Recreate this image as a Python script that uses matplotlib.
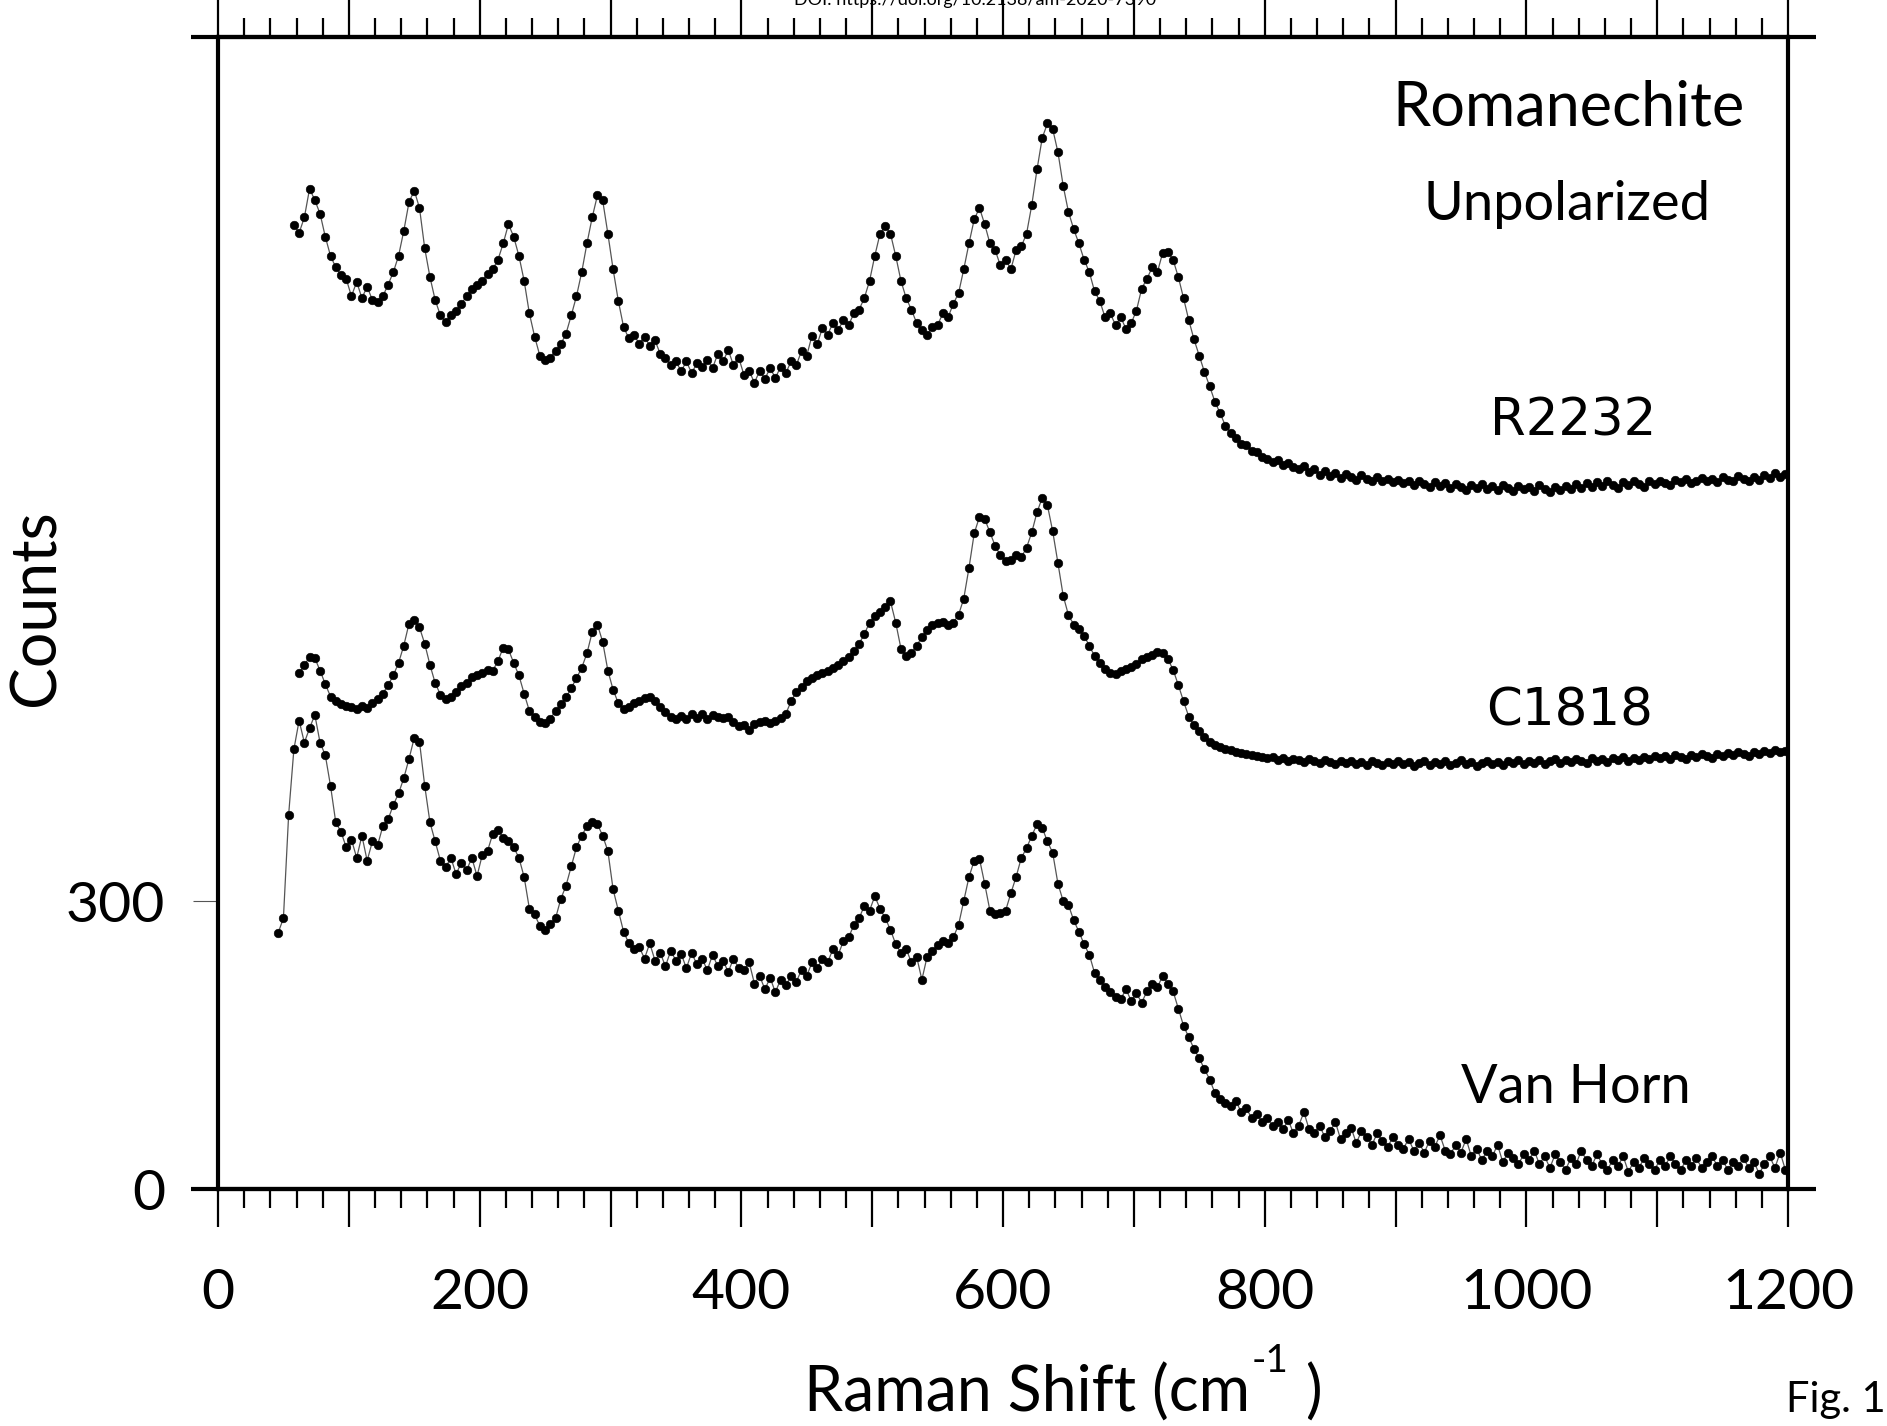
import numpy as np
import matplotlib
matplotlib.use("Agg")
import matplotlib.pyplot as plt
from matplotlib.ticker import MultipleLocator, FuncFormatter

# ---- Raman shift sampling (cm^-1) ----
r2232_shift = np.arange(58, 1199, 4)
c1818_shift = np.arange(62, 1199, 4)
vanhorn_shift = np.arange(46, 1199, 4)

# ---- R2232 counts (offset trace, top) ----
r2232_counts = [
    1004, 996, 1012, 1042, 1030, 1016, 992, 972, 960, 952, 948,
    930, 945, 928, 940, 926, 924, 930, 942, 955, 972, 998, 1028, 1040, 1022, 980,
    950, 926, 910, 903, 910, 915, 922, 930, 938, 942,
    946, 953, 958, 968, 985, 1005, 992, 972, 946, 912, 888, 868, 864, 866, 873,
    880, 891, 910, 930, 955, 985, 1012, 1035, 1030, 995,
    958, 925, 898, 886, 890, 880, 888, 878, 884, 870, 866, 858, 862, 852, 862,
    850, 860, 856, 864, 855, 870, 862, 874, 858, 866,
    848, 852, 840, 852, 844, 855, 845, 856, 850, 862, 858, 873, 868, 889, 880,
    897, 890, 902, 895, 905, 900, 912, 916, 928, 946,
    972, 995, 1003, 995, 972, 946, 928, 916, 902, 895, 890, 898, 900, 912, 908,
    922, 933, 958, 985, 1010, 1022, 1005, 985, 978, 962,
    968, 958, 978, 982, 995, 1025, 1062, 1095, 1110, 1104, 1080, 1045, 1018, 1000, 985,
    968, 955, 935, 925, 908, 912, 900, 908, 896, 902,
    915, 938, 948, 960, 955, 975, 976, 968, 950, 928, 905, 885, 868, 851, 836,
    820, 808, 795, 788, 782, 776, 775, 769, 768, 762,
    760, 757, 759, 754, 756, 752, 750, 753, 747, 750, 744, 748, 743, 746, 741,
    745, 742, 739, 744, 740, 738, 742, 737, 740, 736,
    739, 735, 738, 733, 737, 734, 731, 736, 732, 735, 730, 734, 731, 728, 733,
    730, 734, 729, 732, 728, 733, 730, 727, 732, 729,
    731, 727, 733, 729, 726, 731, 728, 732, 729, 734, 730, 735, 731, 736, 732,
    737, 733, 730, 736, 733, 738, 734, 731, 737, 734,
    738, 735, 733, 739, 736, 740, 735, 738, 741, 737, 740, 736, 742, 739, 737,
    743, 740, 738, 742, 739, 744, 741, 746, 742, 745,
]

# ---- C1818 counts (offset trace, middle) ----
c1818_counts = [
    537, 546, 554, 553, 540, 526, 513, 508, 505, 503,
    502, 500, 503, 501, 506, 510, 516, 525, 535, 548, 566, 589, 593, 585, 568,
    546, 527, 515, 510, 512, 518, 524, 527, 533, 535,
    537, 541, 540, 550, 564, 562, 548, 535, 516, 498, 492, 486, 485, 490, 498,
    505, 512, 522, 532, 543, 558, 580, 588, 570, 540,
    520, 506, 500, 502, 506, 508, 511, 512, 508, 502, 497, 492, 490, 493, 490,
    495, 491, 495, 490, 494, 492, 491, 492, 486, 482,
    483, 478, 484, 486, 487, 485, 488, 491, 495, 508, 518, 523, 529, 532, 535,
    537, 540, 543, 546, 550, 554, 560, 568, 578, 590,
    597, 601, 606, 612, 590, 563, 555, 558, 566, 575, 582, 587, 590, 591, 588,
    590, 598, 615, 647, 683, 700, 698, 684, 670, 660,
    654, 655, 660, 658, 668, 684, 705, 720, 712, 685, 652, 618, 598, 588, 583,
    576, 566, 555, 548, 542, 537, 536, 540, 542, 544,
    547, 552, 554, 556, 559, 558, 552, 541, 525, 508, 492, 483, 477, 471, 466,
    462, 460, 458, 457, 455, 454, 453, 452, 451, 450,
    449, 450, 447, 449, 446, 448, 447, 445, 448, 446, 444, 447, 445, 443, 446,
    444, 446, 443, 445, 442, 446, 444, 442, 445, 443,
    446, 443, 445, 441, 444, 446, 442, 445, 443, 446, 442, 444, 447, 443, 445,
    441, 444, 446, 443, 445, 442, 446, 444, 447, 443,
    446, 444, 447, 443, 446, 448, 444, 447, 445, 448, 446, 444, 449, 446, 448,
    445, 449, 447, 450, 446, 449, 447, 450, 448, 451,
    449, 451, 448, 452, 450, 448, 452, 450, 453, 451, 449, 453, 451, 454, 452,
    455, 453, 451, 455, 453, 456, 454, 457, 455, 456,
]

# ---- Van Horn counts (bottom trace) ----
vanhorn_counts = [
    267, 282, 390, 458, 488, 465, 480, 494, 465, 452, 420, 382, 372, 356,
    364, 345, 368, 342, 362, 358, 378, 385, 400, 412, 428, 448, 470, 466, 420,
    382, 362, 342, 335, 345, 328, 340, 332, 345, 326,
    348, 352, 370, 374, 366, 362, 356, 345, 325, 292, 286, 274, 270, 276, 282,
    302, 316, 336, 356, 368, 378, 382, 380, 368, 352,
    312, 290, 268, 256, 250, 252, 240, 256, 238, 246, 232, 248, 238, 245, 230,
    246, 234, 240, 228, 244, 232, 238, 226, 240, 230,
    228, 236, 214, 222, 208, 220, 205, 218, 212, 222, 216, 228, 222, 236, 230,
    240, 236, 250, 244, 258, 262, 275, 282, 295, 290,
    305, 292, 282, 270, 255, 246, 250, 236, 242, 218, 242, 248, 254, 258, 256,
    262, 275, 300, 325, 342, 344, 318, 290, 286, 288,
    290, 308, 325, 345, 355, 368, 380, 376, 362, 350, 318, 300, 296, 280, 268,
    255, 244, 225, 218, 210, 205, 200, 198, 208, 196,
    204, 194, 206, 214, 210, 222, 214, 206, 188, 170, 158, 146, 136, 125, 114,
    100, 94, 90, 86, 92, 80, 84, 74, 78, 70,
    74, 66, 70, 62, 72, 58, 66, 80, 62, 58, 66, 54, 60, 70, 52,
    58, 64, 48, 60, 54, 46, 58, 50, 44, 54,
    46, 42, 52, 40, 48, 38, 50, 44, 56, 40, 36, 46, 38, 52, 34,
    42, 30, 40, 34, 46, 28, 38, 32, 26, 36,
    30, 40, 26, 34, 22, 36, 28, 20, 32, 26, 40, 30, 24, 36, 26,
    20, 30, 24, 34, 18, 28, 22, 32, 26, 20,
    30, 24, 34, 26, 20, 30, 24, 32, 22, 28, 34, 24, 30, 20, 28,
    24, 32, 22, 28, 16, 26, 34, 22, 38, 20,
]

spectra = [
    (r2232_shift, r2232_counts),
    (c1818_shift, c1818_counts),
    (vanhorn_shift, vanhorn_counts),
]

x_tick_step = 100
x_minor_step = 20
y_ticks = [0, 300]

FONT = ["Lato", "DejaVu Sans"]
plt.rcParams["font.family"] = FONT

W, H = 1887, 1426
fig = plt.figure(figsize=(W / 100, H / 100), dpi=100)
ax = fig.add_axes([218 / W, 1 - 1189 / H, 1570 / W, 1152 / H])

for shift, counts in spectra:
    ax.plot(shift, counts, "-", color="#555555", lw=0.9,
            marker="o", ms=6.2, mfc="black", mec="black", mew=0.4)

ax.set_xlim(0, 1200)
ax.set_ylim(0, 1200)

for side in ("top", "bottom", "left", "right"):
    ax.spines[side].set_linewidth(3.0)
    ax.spines[side].set_color("black")

# horizontal frame lines run slightly past the vertical ones
for yy in (0, 1):
    ax.plot([-0.017, 1.018], [yy, yy], transform=ax.transAxes, color="black",
            lw=3.0, clip_on=False, solid_capstyle="butt")

ax.xaxis.set_major_locator(MultipleLocator(x_tick_step))
ax.xaxis.set_minor_locator(MultipleLocator(x_minor_step))
ax.xaxis.set_major_formatter(FuncFormatter(
    lambda v, p: f"{int(round(v))}" if int(round(v)) % 200 == 0 else ""))
ax.tick_params(axis="x", which="both", direction="out", top=True, bottom=True,
               labeltop=False, color="black")
ax.tick_params(axis="x", which="major", length=27, width=1.6, labelsize=41, pad=30)
ax.tick_params(axis="x", which="minor", length=14, width=1.6)

ax.set_yticks(y_ticks)
ax.tick_params(axis="y", which="major", direction="out", left=True, right=False,
               length=18, width=0.8, color="#555555", labelsize=41, pad=20)
ax.tick_params(axis="y", which="minor", left=False, right=False)

ax.text(1032, 1126, "Romanechite", fontsize=44, ha="center", va="center")
ax.text(1031, 1026, "Unpolarized", fontsize=39, ha="center", va="center")
ax.text(1036, 799, "R2232", fontsize=37, ha="center", va="center",
        family="DejaVu Sans")
ax.text(1033, 497, "C1818", fontsize=37, ha="center", va="center",
        family="DejaVu Sans")
ax.text(1038, 106, "Van Horn", fontsize=39, ha="center", va="center")

fig.text(37 / W, 1 - 608 / H, "Counts", rotation=90, fontsize=45,
         ha="center", va="center")

# x-axis title built from pieces so the exponent keeps a plain hyphen
renderer = fig.canvas.get_renderer()
x0 = 804
base = 1 - 1412 / H
t1 = fig.text(x0 / W, base, "Raman Shift (cm", fontsize=45, va="baseline")
w1 = t1.get_window_extent(renderer).width
t2 = fig.text((x0 + w1 + 2) / W, base + 40 / H, "-1", fontsize=28, va="baseline")
w2 = t2.get_window_extent(renderer).width
fig.text((x0 + w1 + w2 + 18) / W, base, ")", fontsize=45, va="baseline")

fig.text(1786 / W, 1 - 1400 / H, "Fig. 1", fontsize=30, ha="left", va="center")
fig.text(975 / W, 1.0, "DOI: https://doi.org/10.2138/am-2020-7390", fontsize=13,
         ha="center", va="center")

fig.savefig("out.png", dpi=100)
